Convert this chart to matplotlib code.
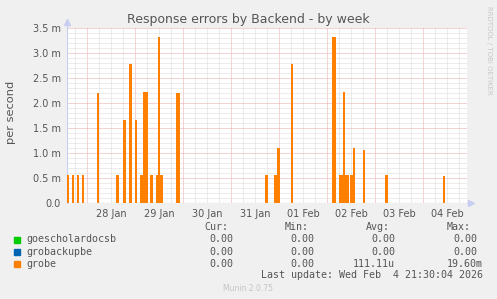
import matplotlib
matplotlib.use("Agg")
import matplotlib.pyplot as plt
import numpy as np
from matplotlib.patches import Rectangle

# time axis: hours since 27 Jan 00:00
x_start, x_end = 14.0, 214.0
day_labels = ["28 Jan", "29 Jan", "30 Jan", "31 Jan", "01 Feb", "02 Feb", "03 Feb", "04 Feb"]

# grobe error spikes (start hour, duration in hours, value in milli-errors/s)
spike_start = [13.9, 16.35, 18.85, 21.35, 28.75, 38.65, 42.15, 45.15, 47.85, 50.35,
               52.0, 55.65, 58.5, 59.35, 60.5, 68.65, 113.15, 117.65, 119.0, 125.85,
               146.65, 150.15, 151.85, 153.15, 155.35, 156.85, 161.85, 173.15, 201.85]
spike_len = [0.85, 1.15, 1.15, 1.15, 1.25, 1.2, 1.2, 1.35, 1.15, 1.5,
             2.5, 1.35, 0.85, 1.15, 1.65, 1.7, 1.35, 1.35, 1.65, 1.3,
             1.7, 1.7, 1.3, 1.7, 1.5, 1.15, 1.3, 1.5, 1.15]
spike_val = [0.56, 0.56, 0.56, 0.56, 2.2, 0.56, 1.67, 2.78, 1.67, 0.56,
             2.22, 0.56, 0.56, 3.33, 0.56, 2.2, 0.56, 0.56, 1.11, 2.78,
             3.33, 0.56, 2.22, 0.56, 0.56, 1.11, 1.07, 0.56, 0.54]

legend_names = ["goescholardocsb", "grobackupbe", "grobe"]
legend_colors = ["#00CC00", "#0066B3", "#FF8000"]
legend_cur = ["0.00", "0.00", "0.00"]
legend_min = ["0.00", "0.00", "0.00"]
legend_avg = ["0.00", "0.00", "111.11u"]
legend_max = ["0.00", "0.00", "19.60m"]

W, H = 497, 299
BG = "#F0F0F0"
TXT = "#555555"

fig = plt.figure(figsize=(W / 100, H / 100), dpi=100, facecolor=BG)
ax = fig.add_axes([67 / W, 1 - 203 / H, 400 / W, 175 / H])
ax.set_facecolor("#FFFFFF")
ax.set_xlim(x_start, x_end)
ax.set_ylim(0, 3.5)

# grid
minor_x = np.arange(18, x_end, 6)
minor_x = minor_x[minor_x % 24 != 0]
major_x = np.arange(24, x_end, 24)
ax.vlines(minor_x, 0, 3.5, colors="#DADADA", linewidth=0.72, linestyles=(0, (1, 1)), zorder=1)
ax.vlines(major_x, 0, 3.5, colors="#E8A8A8", linewidth=0.72, linestyles=(0, (1, 1)), zorder=1)
minor_y = np.arange(0.1, 3.51, 0.1)
minor_y = minor_y[np.abs(minor_y / 0.5 - np.round(minor_y / 0.5)) > 1e-6]
major_y = np.arange(0.5, 3.51, 0.5)
ax.hlines(minor_y, x_start, x_end, colors="#DADADA", linewidth=0.72, linestyles=(0, (1, 1)), zorder=1)
ax.hlines(major_y, x_start, x_end, colors="#E8A8A8", linewidth=0.72, linestyles=(0, (1, 1)), zorder=1)

for s in ax.spines.values():
    s.set_visible(False)
ax.plot([x_start, x_start], [0, 3.62], color="#C8CEF2", linewidth=0.8, clip_on=False, zorder=2)
ax.plot([x_start], [3.62], marker="^", color="#C8CEF2", markersize=4, clip_on=False, zorder=2)
ax.plot([x_end, x_end + 1.8], [0, 0], color="#C8CEF2", linewidth=0.8, clip_on=False, zorder=2)
ax.plot([x_end + 1.8], [0], marker=">", color="#C8CEF2", markersize=4, clip_on=False, zorder=2)

ax.bar(spike_start, spike_val, width=spike_len, align="edge", color="#FF8000",
       linewidth=0, zorder=3)
ax.axhline(0, color="#E8A08A", linewidth=0.8, zorder=4)

yt = np.arange(0, 3.51, 0.5)
ax.set_yticks(yt, ["0.0" if v == 0 else f"{v:.1f} m" for v in yt])
ax.set_xticks(np.arange(36, x_end, 24)[:len(day_labels)], day_labels)
ax.tick_params(length=0, labelsize=7, labelcolor=TXT)
ax.tick_params(axis="y", pad=4.5)
ax.tick_params(axis="x", pad=4)
ax.set_ylabel("per second", fontsize=8.2, color=TXT)
ax.yaxis.set_label_coords(-51 / 400, 0.52)

fig.text(248.5 / W, 1 - 19 / H, "Response errors by Backend - by week", ha="center",
         va="center", fontsize=9, color=TXT)
fig.text(489 / W, 1 - 6 / H, "RRDTOOL / TOBI OETIKER", rotation=-90, ha="center",
         va="top", fontsize=5, color="#C8C8C8")

# legend
mono = dict(family="DejaVu Sans Mono", fontsize=7.2, color=TXT, va="center")
for x, lab in zip([204, 285, 366, 447], ["Cur:", "Min:", "Avg:", "Max:"]):
    fig.text(x / W, 1 - 227.5 / H, lab, ha="left", **mono)
for i, name in enumerate(legend_names):
    y = 239.5 + 12.2 * i
    fig.patches.append(Rectangle((14 / W, 1 - (y + 3) / H), 6 / W, 6 / H,
                                 transform=fig.transFigure, color=legend_colors[i]))
    fig.text(26 / W, 1 - y / H, name, ha="left", **mono)
    fig.text(233 / W, 1 - y / H, legend_cur[i], ha="right", **mono)
    fig.text(314 / W, 1 - y / H, legend_min[i], ha="right", **mono)
    fig.text(395 / W, 1 - y / H, legend_avg[i], ha="right", **mono)
    fig.text((483 if legend_max[i][-1].isalpha() else 477) / W, 1 - y / H, legend_max[i],
             ha="right", **mono)
fig.text(483 / W, 1 - 275.5 / H, "Last update: Wed Feb  4 21:30:04 2026", ha="right", **mono)
fig.text(248 / W, 1 - 288.5 / H, "Munin 2.0.75", ha="center", va="center", fontsize=5.5,
         color="#C4C4C4")

fig.savefig("out.png", dpi=100, facecolor=BG)
